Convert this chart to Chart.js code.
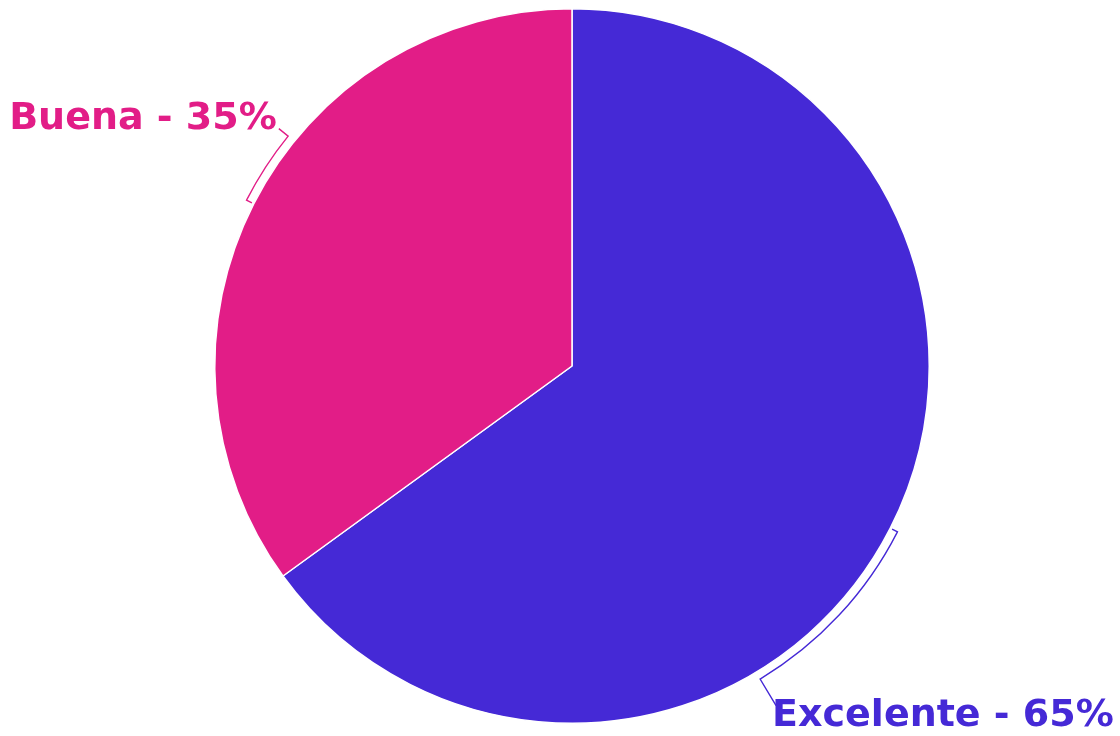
<!DOCTYPE html>
<html>
<head>
<meta charset="utf-8">
<script src="https://cdn.jsdelivr.net/npm/chart.js@4"></script>
<style>
  html, body { margin: 0; padding: 0; background: #ffffff; }
  #wrap { width: 1120px; height: 736px; }
</style>
</head>
<body>
<div id="wrap"><canvas id="rating-chart" width="1120" height="736"></canvas></div>
<script>
const labels = ['Excelente', 'Buena'];
const values = [65, 35];
const colors = ['#4529D6', '#E21D87'];

// bracket callouts: span of the arc (deg, from slice middle) and leader length
const bracketSpan = [32, 12];
const leaderLength = [39, 20];

const toRad = (d) => (d * Math.PI) / 180;

const calloutPlugin = {
  id: 'callouts',
  afterDatasetsDraw(chart) {
    const { ctx } = chart;
    const meta = chart.getDatasetMeta(0);
    meta.data.forEach((arc, i) => {
      const { x, y, outerRadius, startAngle, endAngle } = arc.getProps(
        ['x', 'y', 'outerRadius', 'startAngle', 'endAngle'],
        true
      );
      const mid = (startAngle + endAngle) / 2;
      const a1 = mid;
      const a2 = mid + toRad(bracketSpan[i]);
      const rIn = outerRadius + 2;
      const rArc = outerRadius + 8;
      const rEnd = outerRadius + leaderLength[i];
      const pt = (a, r) => [x + Math.cos(a) * r, y + Math.sin(a) * r];

      ctx.save();
      ctx.strokeStyle = colors[i];
      ctx.lineWidth = 1.4;
      ctx.beginPath();
      ctx.moveTo(...pt(a1, rIn));
      ctx.lineTo(...pt(a1, rArc));
      ctx.arc(x, y, rArc, a1, a2);
      const end = pt(a2, rEnd);
      ctx.lineTo(...end);
      ctx.stroke();

      ctx.fillStyle = colors[i];
      ctx.font = 'bold 38px "DejaVu Sans"';
      const text = `${labels[i]} - ${values[i]}%`;
      ctx.textBaseline = 'alphabetic';
      if (end[0] < x) {
        ctx.textAlign = 'right';
        ctx.fillText(text, end[0] - 2, end[1]);
      } else {
        ctx.textAlign = 'left';
        ctx.fillText(text, end[0] - 4, end[1] + 20);
      }
      ctx.restore();
    });
  },
};

const ctx = document.getElementById('rating-chart').getContext('2d');

new Chart(ctx, {
  type: 'pie',
  data: {
    labels: labels,
    datasets: [
      {
        data: values,
        backgroundColor: colors,
        borderColor: '#ffffff',
        borderWidth: 1.5,
      },
    ],
  },
  options: {
    responsive: false,
    animation: false,
    layout: {
      padding: { top: 8, bottom: 12, left: 24, right: 0 },
    },
    plugins: {
      legend: { display: false },
      tooltip: { enabled: false },
    },
  },
  plugins: [calloutPlugin],
});
</script>
</body>
</html>
